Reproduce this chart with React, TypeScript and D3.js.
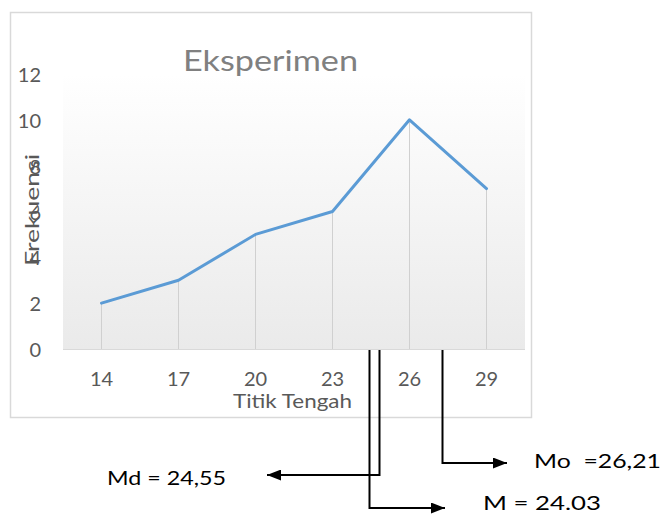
import React, { useEffect, useRef } from "react";
import * as d3 from "d3";

const midpoints = ["14", "17", "20", "23", "26", "29"];
const frequencies = [2, 3, 5, 6, 10, 7];
const yTicks = [0, 2, 4, 6, 8, 10, 12];

// mean, median, mode marked under the axis (pos = where the marker sits on the x axis)
const statLabels = ["M = 24.03", "Md = 24,55", "Mo  =26,21"];
const statPos = [24.42, 24.82, 27.25];

const font = "Lato, 'Open Sans', sans-serif";

const App = () => {
  const svgRef = useRef<SVGSVGElement>(null);

  useEffect(() => {
    const svg = d3.select(svgRef.current);
    svg.selectAll("*").remove();

    const left = 63;
    const right = 525;
    const top = 74;
    const bottom = 349;

    const x = d3.scaleBand().domain(midpoints).range([left, right]);
    const y = d3.scaleLinear().domain([0, 12]).range([bottom, top]);
    const cx = (k: string) => x(k)! + x.bandwidth() / 2;
    // continuous axis for the stats, matched to the band centres
    const xv = d3.scaleLinear().domain([14, 29]).range([cx("14"), cx("29")]);

    const defs = svg.append("defs");
    const grad = defs
      .append("linearGradient")
      .attr("id", "bg")
      .attr("x1", 0)
      .attr("y1", 0)
      .attr("x2", 0)
      .attr("y2", 1);
    grad.append("stop").attr("offset", "0%").attr("stop-color", "#ffffff");
    grad.append("stop").attr("offset", "100%").attr("stop-color", "#eaeaea");

    const marker = defs
      .append("marker")
      .attr("id", "arrow")
      .attr("viewBox", "0 0 10 10")
      .attr("refX", 10)
      .attr("refY", 5)
      .attr("markerWidth", 14)
      .attr("markerHeight", 11)
      .attr("markerUnits", "userSpaceOnUse")
      .attr("preserveAspectRatio", "none")
      .attr("orient", "auto");
    marker.append("path").attr("d", "M0,0L10,5L0,10Z").attr("fill", "#000");

    // chart frame
    svg
      .append("rect")
      .attr("x", 10.5)
      .attr("y", 12.5)
      .attr("width", 521)
      .attr("height", 405)
      .attr("fill", "#fff")
      .attr("stroke", "#d9d9d9")
      .attr("stroke-width", 1.5);

    svg
      .append("rect")
      .attr("x", left)
      .attr("y", top)
      .attr("width", right - left)
      .attr("height", bottom - top)
      .attr("fill", "url(#bg)");

    svg
      .append("text")
      .attr("x", 270.5)
      .attr("y", 71)
      .attr("text-anchor", "middle")
      .attr("font-family", font)
      .attr("font-size", 28)
      .attr("textLength", 175)
      .attr("lengthAdjust", "spacingAndGlyphs")
      .attr("fill", "#808080")
      .text("Eksperimen");

    // drop lines
    svg
      .append("g")
      .selectAll("line")
      .data(frequencies)
      .join("line")
      .attr("x1", (d, i) => cx(midpoints[i]))
      .attr("x2", (d, i) => cx(midpoints[i]))
      .attr("y1", (d) => y(d))
      .attr("y2", bottom)
      .attr("stroke", "#d0d0d0")
      .attr("stroke-width", 1);

    svg
      .append("line")
      .attr("x1", left)
      .attr("x2", right)
      .attr("y1", bottom + 0.5)
      .attr("y2", bottom + 0.5)
      .attr("stroke", "#d9d9d9");

    const line = d3
      .line<number>()
      .x((d, i) => cx(midpoints[i]))
      .y((d) => y(d));

    svg
      .append("path")
      .datum(frequencies)
      .attr("d", line)
      .attr("fill", "none")
      .attr("stroke", "#5b9bd5")
      .attr("stroke-width", 3)
      .attr("stroke-linejoin", "round")
      .attr("stroke-linecap", "round");

    // axes labels
    svg
      .append("g")
      .selectAll("text")
      .data(yTicks)
      .join("text")
      .attr("x", 41)
      .attr("y", (d) => y(d) + 8)
      .attr("text-anchor", "end")
      .attr("font-family", font)
      .attr("font-size", 20)
      .attr("fill", "#595959")
      .text((d) => d);

    svg
      .append("g")
      .selectAll("text")
      .data(midpoints)
      .join("text")
      .attr("x", (d) => cx(d))
      .attr("y", 386)
      .attr("text-anchor", "middle")
      .attr("font-family", font)
      .attr("font-size", 20)
      .attr("fill", "#595959")
      .text((d) => d);

    svg
      .append("text")
      .attr("x", 292.5)
      .attr("y", 408)
      .attr("text-anchor", "middle")
      .attr("font-family", font)
      .attr("font-size", 19)
      .attr("textLength", 119)
      .attr("lengthAdjust", "spacingAndGlyphs")
      .attr("fill", "#595959")
      .text("Titik Tengah");

    svg
      .append("text")
      .attr("transform", "translate(39,210) rotate(-90)")
      .attr("text-anchor", "middle")
      .attr("font-family", font)
      .attr("font-size", 20)
      .attr("textLength", 112)
      .attr("lengthAdjust", "spacingAndGlyphs")
      .attr("fill", "#595959")
      .text("Frekuensi");

    // stat annotations: drop from axis, then turn towards the label
    const ann = [
      { yTurn: 508, xEnd: 445, lx: 483, ly: 510, w: 118 },
      { yTurn: 475, xEnd: 267, lx: 107, ly: 485, w: 119 },
      { yTurn: 463, xEnd: 507, lx: 534, ly: 468, w: 127 },
    ];

    ann.forEach((a, i) => {
      const px = Math.round(xv(statPos[i])) + 0.5;
      svg
        .append("path")
        .attr("d", `M${px},${bottom + 1}V${a.yTurn}H${a.xEnd}`)
        .attr("fill", "none")
        .attr("stroke", "#000")
        .attr("stroke-width", 2)
        .attr("marker-end", "url(#arrow)");
      svg
        .append("text")
        .attr("x", a.lx)
        .attr("y", a.ly)
        .attr("font-family", font)
        .attr("font-size", 20)
        .attr("textLength", a.w)
        .attr("lengthAdjust", "spacingAndGlyphs")
        .attr("fill", "#000")
        .attr("xml:space", "preserve")
        .style("white-space", "pre")
        .text(statLabels[i]);
    });
  }, []);

  return (
    <svg
      ref={svgRef}
      width={669}
      height={515}
      style={{ position: "absolute", left: 0, top: 0 }}
    />
  );
};

export default App;
